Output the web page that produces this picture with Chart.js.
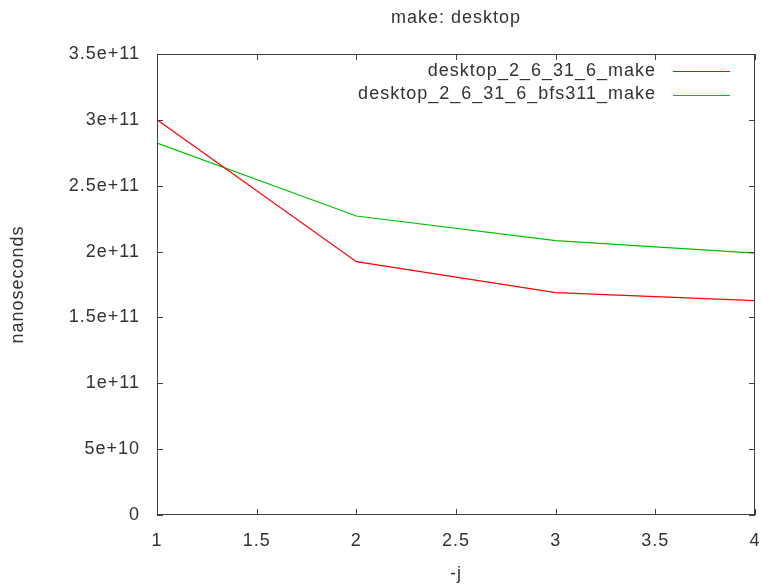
<!DOCTYPE html>
<html>
<head>
<meta charset="utf-8">
<script src="https://cdn.jsdelivr.net/npm/chart.js@4/dist/chart.umd.min.js"></script>
<style>
    html, body { margin: 0; padding: 0; background: #fff; }
    #wrap { width: 762px; height: 585px; }
</style>
</head>
<body>
<div id="wrap"><canvas id="chart" width="762" height="585"></canvas></div>
<script>
// values
const jobs = [1, 2, 3, 4];
const makeNs = [3.0e11, 1.923e11, 1.688e11, 1.627e11];
const bfsNs = [2.824e11, 2.27e11, 2.083e11, 1.988e11];
const seriesNames = ['desktop_2_6_31_6_make', 'desktop_2_6_31_6_bfs311_make'];
const seriesColors = ['#ff0000', '#00c000'];
const xTicks = [1, 1.5, 2, 2.5, 3, 3.5, 4];
const yTicks = [0, 5e10, 1e11, 1.5e11, 2e11, 2.5e11, 3e11, 3.5e11];
const chartTitle = 'make: desktop';

const FONT = 'Liberation Sans';
const TEXT = '#333333';

Chart.defaults.font.family = FONT;
Chart.defaults.font.size = 18;
Chart.defaults.color = TEXT;

function sciLabel(v) {
    if (v === 0) return '0';
    const exp = Math.floor(Math.log10(v));
    const mant = Math.round(v / Math.pow(10, exp) * 100) / 100;
    return mant + 'e+' + exp;
}

// gnuplot look: frame, inward ticks on all sides, title and key drawn on the canvas
const gnuplotFrame = {
    id: 'gnuplotFrame',
    beforeDraw(chart) {
        chart.ctx.letterSpacing = '1px';
    },
    afterDatasetsDraw(chart) {
        const ctx = chart.ctx;
        const a = chart.chartArea;
        const xs = chart.scales.x, ys = chart.scales.y;
        ctx.save();
        ctx.strokeStyle = '#404040';
        ctx.lineWidth = 1;
        ctx.strokeRect(a.left + 0.5, a.top + 0.5, a.right - a.left - 1, a.bottom - a.top - 1);
        ctx.beginPath();
        xTicks.forEach(t => {
            const px = Math.round(xs.getPixelForValue(t)) + 0.5;
            ctx.moveTo(px, a.bottom); ctx.lineTo(px, a.bottom - 6);
            ctx.moveTo(px, a.top); ctx.lineTo(px, a.top + 6);
        });
        yTicks.forEach(t => {
            const py = Math.round(ys.getPixelForValue(t)) + 0.5;
            ctx.moveTo(a.left, py); ctx.lineTo(a.left + 6, py);
            ctx.moveTo(a.right, py); ctx.lineTo(a.right - 6, py);
        });
        ctx.stroke();

        ctx.letterSpacing = '1px';
        ctx.font = '18px "' + FONT + '"';
        ctx.fillStyle = TEXT;
        ctx.textBaseline = 'middle';
        ctx.textAlign = 'center';
        ctx.fillText(chartTitle, (a.left + a.right) / 2, 18);

        // key, top right
        ctx.textAlign = 'right';
        chart.data.datasets.forEach((ds, i) => {
            const y = 71 + i * 23.5;
            ctx.fillText(ds.label, a.right - 99, y);
            ctx.strokeStyle = ds.borderColor;
            ctx.beginPath();
            ctx.moveTo(a.right - 82, Math.round(y) + 0.5);
            ctx.lineTo(a.right - 25, Math.round(y) + 0.5);
            ctx.stroke();
        });
        ctx.restore();
    }
};

new Chart(document.getElementById('chart'), {
    type: 'line',
    data: {
        datasets: [
            {
                label: seriesNames[0],
                data: jobs.map((j, i) => ({ x: j, y: makeNs[i] })),
                borderColor: seriesColors[0],
                borderWidth: 1.2,
                pointRadius: 0,
                tension: 0
            },
            {
                label: seriesNames[1],
                data: jobs.map((j, i) => ({ x: j, y: bfsNs[i] })),
                borderColor: seriesColors[1],
                borderWidth: 1.2,
                pointRadius: 0,
                tension: 0
            }
        ]
    },
    options: {
        responsive: false,
        animation: false,
        events: [],
        layout: { padding: { top: 54, right: 7, bottom: 0, left: 0 } },
        plugins: {
            legend: { display: false },
            title: { display: false },
            tooltip: { enabled: false }
        },
        scales: {
            x: {
                type: 'linear',
                min: 1,
                max: 4,
                grid: { display: false, drawTicks: false },
                border: { display: false },
                afterBuildTicks: scale => { scale.ticks = xTicks.map(v => ({ value: v })); },
                ticks: {
                    padding: 15,
                    maxRotation: 0,
                    callback: v => String(v)
                },
                title: { display: true, text: '-j', padding: { top: 0, bottom: 0 } },
                afterFit: scale => {
                    scale.height = 70;
                    scale.paddingLeft = 0;
                    scale.paddingRight = 0;
                }
            },
            y: {
                type: 'linear',
                min: 0,
                max: 3.5e11,
                grid: { display: false, drawTicks: false },
                border: { display: false },
                afterBuildTicks: scale => { scale.ticks = yTicks.map(v => ({ value: v })); },
                ticks: {
                    padding: 17,
                    callback: v => sciLabel(v)
                },
                title: { display: true, text: 'nanoseconds', padding: { top: 7, bottom: 0 } },
                afterFit: scale => {
                    scale.width = 157;
                    scale.paddingTop = 0;
                    scale.paddingBottom = 0;
                }
            }
        }
    },
    plugins: [gnuplotFrame]
});
</script>
</body>
</html>
